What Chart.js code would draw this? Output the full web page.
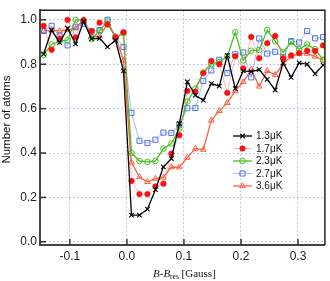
<!DOCTYPE html>
<html>
<head>
<meta charset="utf-8">
<script src="https://cdn.jsdelivr.net/npm/chart.js@4.4.0/dist/chart.umd.min.js"></script>
<style>
  html, body { margin: 0; padding: 0; background: #fff; }
  #wrap { width: 330px; height: 281px; }
</style>
</head>
<body>
<div id="wrap"><canvas id="chart" width="330" height="281"></canvas></div>
<script>
/* data */
const fieldGauss = [-0.146, -0.132, -0.118, -0.104, -0.090, -0.076, -0.062, -0.048, -0.034, -0.020,
	-0.006, 0.008, 0.022, 0.036, 0.050, 0.064, 0.078, 0.092, 0.106, 0.120,
	0.134, 0.148, 0.162, 0.176, 0.190, 0.204, 0.218, 0.232, 0.246, 0.260,
	0.274, 0.288, 0.302, 0.316, 0.330, 0.344];

const atoms13 = [0.846, 0.954, 0.897, 0.962, 0.892, 0.993, 0.914, 0.917, 0.878, 0.908,
	0.770, 0.120, 0.120, 0.147, 0.235, 0.338, 0.375, 0.533, 0.721, 0.660,
	0.638, 0.713, 0.701, 0.840, 0.690, 0.770, 0.767, 0.776, 0.732, 0.684,
	0.806, 0.741, 0.806, 0.800, 0.757, 0.796];

const atoms17 = [0.973, 0.865, 0.915, 1.000, 0.921, 0.998, 0.950, 0.987, 0.979, 0.921,
	0.944, 0.274, 0.215, 0.215, 0.250, 0.262, 0.397, 0.480, 0.680, 0.676,
	0.760, 0.815, 0.800, 0.671, 0.836, 0.781, 0.923, 0.827, 0.895, 0.927,
	0.826, 0.840, 0.850, 0.861, 0.860, 0.885];

const atoms23 = [0.842, 0.889, 0.904, 0.908, 1.000, 0.998, 0.914, 0.950, 0.993, 0.918,
	0.940, 0.400, 0.364, 0.360, 0.364, 0.420, 0.443, 0.510, 0.632, 0.690,
	0.762, 0.801, 0.810, 0.835, 0.944, 0.817, 0.861, 0.864, 0.954, 0.904,
	0.853, 0.900, 0.868, 0.889, 0.868, 0.820];

const atoms27 = [0.950, 0.973, 0.926, 0.885, 0.969, 0.983, 0.947, 0.954, 1.000, 0.921,
	0.878, 0.581, 0.455, 0.445, 0.460, 0.492, 0.490, 0.528, 0.602, 0.603,
	0.725, 0.772, 0.820, 0.760, 0.845, 0.853, 0.741, 0.916, 0.848, 0.856,
	0.833, 0.904, 0.898, 0.950, 0.917, 0.922];

const atoms36 = [0.950, 0.954, 0.950, 0.954, 0.962, 1.000, 0.926, 0.926, 0.983, 0.926,
	0.817, 0.358, 0.292, 0.270, 0.285, 0.290, 0.337, 0.336, 0.379, 0.420,
	0.415, 0.547, 0.590, 0.626, 0.680, 0.720, 0.776, 0.700, 0.770, 0.752,
	0.802, 0.835, 0.848, 0.848, 0.835, 0.818];

const seriesLabels = ['1.3\u03bcK', '1.7\u03bcK', '2.3\u03bcK', '2.7\u03bcK', '3.6\u03bcK'];
const xTicks = [-0.1, 0.0, 0.1, 0.2, 0.3];
const yTicks = [0.0, 0.2, 0.4, 0.6, 0.8, 1.0];

Chart.defaults.font.family = '"Liberation Sans", Arial, sans-serif';

function toPoints(ys) {
	return ys.map((v, i) => ({ x: fieldGauss[i], y: v }));
}

const clear = 'rgba(255,255,255,0)';

const datasets = [
	{ // 1.3uK
		label: seriesLabels[0], data: toPoints(atoms13),
		borderColor: '#000', borderWidth: 1.3,
		pointStyle: 'crossRot', pointRadius: 3.2, pointBorderWidth: 1.1,
		pointBorderColor: '#000', pointBackgroundColor: '#000'
	},
	{ // 1.7uK
		label: seriesLabels[1], data: toPoints(atoms17),
		borderColor: 'rgba(255,90,90,0.45)', borderWidth: 1,
		pointStyle: 'circle', pointRadius: 2.7, pointBorderWidth: 0.8,
		pointBorderColor: '#ff1010', pointBackgroundColor: '#ff1010'
	},
	{ // 2.3uK
		label: seriesLabels[2], data: toPoints(atoms23),
		borderColor: '#44c020', borderWidth: 1.3,
		pointStyle: 'circle', pointRadius: 2.8, pointBorderWidth: 1,
		pointBorderColor: '#44c020', pointBackgroundColor: clear
	},
	{ // 2.7uK
		label: seriesLabels[3], data: toPoints(atoms27),
		borderColor: 'rgba(90,120,240,0.5)', borderWidth: 1,
		pointStyle: 'rect', pointRadius: 3.6, pointBorderWidth: 1,
		pointBorderColor: '#4f70f0', pointBackgroundColor: clear
	},
	{ // 3.6uK
		label: seriesLabels[4], data: toPoints(atoms36),
		borderColor: '#ff6040', borderWidth: 1.3,
		pointStyle: 'triangle', pointRadius: 3.3, pointBorderWidth: 1,
		pointBorderColor: '#ff6040', pointBackgroundColor: clear
	}
];

// frame, inward ticks, legend and axis titles
const extras = {
	id: 'extras',
	afterDraw(chart) {
		const { ctx, chartArea: a, scales: { x, y } } = chart;
		ctx.save();

		ctx.strokeStyle = '#222';
		ctx.lineWidth = 1.5;
		ctx.beginPath();
		ctx.moveTo(a.left, a.top);
		ctx.lineTo(a.right, a.top);
		ctx.lineTo(a.right, a.bottom);
		ctx.stroke();

		ctx.strokeStyle = '#333';
		ctx.lineWidth = 1.5;
		xTicks.forEach(v => {
			const px = x.getPixelForValue(v);
			ctx.beginPath();
			ctx.moveTo(px, a.bottom);
			ctx.lineTo(px, a.bottom - 6);
			ctx.stroke();
		});
		yTicks.forEach(v => {
			const py = y.getPixelForValue(v);
			ctx.beginPath();
			ctx.moveTo(a.left, py);
			ctx.lineTo(a.left + 6, py);
			ctx.stroke();
		});

		// legend
		chart.data.datasets.forEach((ds, i) => {
			const ly = 136 + i * 12.5;
			ctx.strokeStyle = ds.borderColor;
			ctx.lineWidth = ds.borderWidth;
			ctx.beginPath();
			ctx.moveTo(233, ly);
			ctx.lineTo(252, ly);
			ctx.stroke();
			ctx.strokeStyle = ds.pointBorderColor;
			ctx.fillStyle = ds.pointBackgroundColor;
			ctx.lineWidth = ds.pointBorderWidth;
			Chart.helpers.drawPoint(ctx, {
				pointStyle: ds.pointStyle, radius: ds.pointRadius,
				rotation: 0, borderWidth: ds.pointBorderWidth
			}, 242.5, ly);
			ctx.fillStyle = '#111';
			ctx.font = '10px "Liberation Sans", Arial, sans-serif';
			ctx.textAlign = 'left';
			ctx.textBaseline = 'middle';
			ctx.fillText(ds.label, 256, ly + 0.5);
		});

		// x title: B-B_res [Gauss]
		ctx.fillStyle = '#111';
		ctx.textAlign = 'left';
		ctx.textBaseline = 'alphabetic';
		let tx = 153;
		const base = 276.5;
		ctx.font = 'italic 11px "Liberation Serif", "Times New Roman", serif';
		ctx.fillText('B-B', tx, base);
		tx += ctx.measureText('B-B').width;
		ctx.font = '7.5px "Liberation Serif", "Times New Roman", serif';
		ctx.fillText('res', tx, base + 2);
		tx += ctx.measureText('res').width;
		ctx.font = '11px "Liberation Serif", "Times New Roman", serif';
		ctx.fillText(' [Gauss]', tx, base);

		// y title
		ctx.translate(10, 119.5);
		ctx.rotate(-Math.PI / 2);
		ctx.textAlign = 'center';
		ctx.font = '11.5px "Liberation Sans", Arial, sans-serif';
		ctx.fillText('Number of atoms', 0, 0);

		ctx.restore();
	}
};

new Chart(document.getElementById('chart'), {
	type: 'scatter',
	data: { datasets: datasets.map(d => Object.assign({ showLine: true, fill: false, tension: 0 }, d)) },
	options: {
		responsive: false,
		animation: false,
		devicePixelRatio: 1,
		layout: { padding: { top: 1, right: 1, left: 0, bottom: 0 } },
		plugins: { legend: { display: false }, tooltip: { enabled: false } },
		scales: {
			x: {
				type: 'linear',
				min: -0.1524, max: 0.3472,
				afterBuildTicks: s => { s.ticks = xTicks.map(v => ({ value: v })); },
				afterFit: s => { s.height = 36; },
				ticks: { color: '#222', font: { size: 12 }, padding: 4, callback: v => v.toFixed(1), maxRotation: 0 },
				grid: { color: '#bccbf0', lineWidth: 1, drawTicks: false },
				border: { display: true, color: '#444', width: 2, dash: [2, 2] }
			},
			y: {
				type: 'linear',
				min: -0.0143, max: 1.0434,
				afterBuildTicks: s => { s.ticks = yTicks.map(v => ({ value: v })); },
				afterFit: s => { s.width = 40; },
				ticks: { color: '#222', font: { size: 12 }, padding: 3, callback: v => v.toFixed(1) },
				grid: { color: '#bccbf0', lineWidth: 1, drawTicks: false },
				border: { display: true, color: '#444', width: 2, dash: [2, 2] }
			}
		}
	},
	plugins: [extras]
});
</script>
</body>
</html>
